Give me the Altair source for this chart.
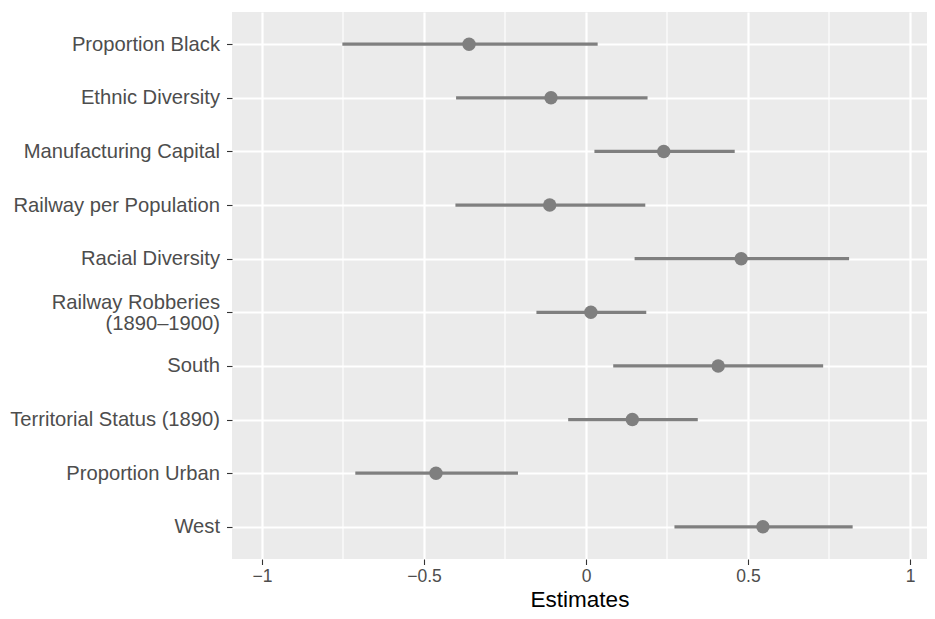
import altair as alt
import pandas as pd

terms = [
    "Proportion Black",
    "Ethnic Diversity",
    "Manufacturing Capital",
    "Railway per Population",
    "Racial Diversity",
    "Railway Robberies\n(1890–1900)",
    "South",
    "Territorial Status (1890)",
    "Proportion Urban",
    "West",
]
estimates = [-0.361, -0.108, 0.240, -0.112, 0.479, 0.015, 0.408, 0.143, -0.463, 0.546]
ci_low = [-0.752, -0.401, 0.026, -0.403, 0.150, -0.153, 0.084, -0.055, -0.712, 0.273]
ci_high = [0.036, 0.190, 0.459, 0.183, 0.812, 0.186, 0.732, 0.345, -0.210, 0.823]
major_ticks = [-1, -0.5, 0, 0.5, 1]
minor_ticks = [-0.75, -0.25, 0.25, 0.75]

df = pd.DataFrame({"term": terms, "estimate": estimates, "low": ci_low, "high": ci_high})
minor_df = pd.DataFrame({"v": minor_ticks})

FONT = "Liberation Sans"
x_scale = alt.Scale(domain=[-1.0926, 1.0525], nice=False, zero=False)
y_scale = alt.Scale(domain=terms, type="point", padding=0.6)

x_axis = alt.Axis(
    values=major_ticks, format=".1~f", grid=True, gridColor="white", gridWidth=2.2,
    tickColor="#333333", tickSize=5.5, tickWidth=1.1, domain=False,
    labelColor="#4D4D4D", labelFontSize=17.5, labelFont=FONT, labelPadding=3,
    title="Estimates", titleFontSize=22.5, titleFont=FONT, titleColor="black",
    titleFontWeight="normal", titlePadding=3,
)
y_axis = alt.Axis(
    grid=True, gridColor="white", gridWidth=2.2,
    tickColor="#333333", tickSize=5.5, tickWidth=1.1, domain=False,
    labelColor="#4D4D4D", labelFontSize=20.2, labelFont=FONT, labelPadding=7,
    labelExpr="split(datum.label, '\\n')", labelLineHeight=21, labelLimit=400,
    labelOffset={"condition": {"test": "indexof(datum.label, '\\n') >= 0", "value": -10}, "value": 0},
    title=None,
)

minor = alt.Chart(minor_df).mark_rule(color="white", strokeWidth=1.1).encode(
    x=alt.X("v:Q", scale=x_scale, axis=x_axis)
)

bars = alt.Chart(df).mark_rule(color="#7F7F7F", strokeWidth=3.3).encode(
    x=alt.X("low:Q", scale=x_scale, axis=x_axis),
    x2="high:Q",
    y=alt.Y("term:N", scale=y_scale, axis=y_axis, sort=terms),
)

points = alt.Chart(df).mark_point(filled=True, color="#7F7F7F", opacity=1, size=180).encode(
    x=alt.X("estimate:Q", scale=x_scale, axis=x_axis),
    y=alt.Y("term:N", scale=y_scale, axis=y_axis, sort=terms),
)

chart = alt.layer(minor, bars, points).properties(
    width=695, height=547,
    background="white",
    autosize=alt.AutoSizeParams(type="none"),
    padding={"left": 224, "top": 4, "right": 0, "bottom": 52},
).configure_view(
    fill="#EBEBEB", strokeWidth=0
)

chart.save("out.html", embed_options={"renderer": "svg", "actions": False})
